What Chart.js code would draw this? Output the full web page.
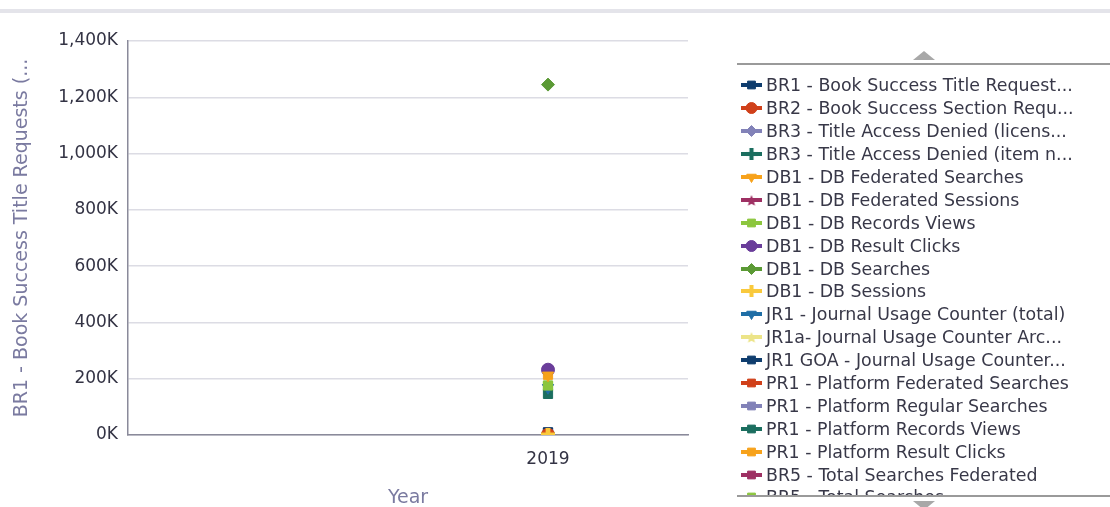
<!DOCTYPE html>
<html>
<head>
<meta charset="utf-8">
<script src="https://cdn.jsdelivr.net/npm/chart.js@4"></script>
<style>
  html, body { margin: 0; padding: 0; background: #fff; }
  body { width: 1110px; height: 507px; position: relative; overflow: hidden; font-family: "DejaVu Sans", sans-serif; }
  #topline { position: absolute; left: 0; top: 9px; width: 1110px; height: 4px; background: #e4e4ea; }
  #chartBox { position: absolute; left: 0; top: 0; width: 700px; height: 507px; }
  #legendWrap { position: absolute; left: 737px; top: 63px; width: 373px; height: 434px; border-top: 2px solid #9a9a9a; border-bottom: 2px solid #9a9a9a; overflow: hidden; box-sizing: border-box; }
  #legend { position: absolute; left: 0; top: 9px; }
  .item { height: 22.9px; display: flex; align-items: center; white-space: nowrap; color: #383848; font-size: 17.4px; }
  .item canvas { margin-right: 3px; }
  .arrow { position: absolute; width: 0; height: 0; border-left: 11px solid transparent; border-right: 11px solid transparent; left: 913px; }
  #up { top: 51px; border-bottom: 9px solid #a8a8a8; }
  #down { top: 501px; border-top: 9px solid #a8a8a8; }
</style>
</head>
<body>
<div id="topline"></div>
<div id="chartBox"><canvas id="myChart" width="700" height="507"></canvas></div>
<div class="arrow" id="up"></div>
<div id="legendWrap"><div id="legend"></div></div>
<div class="arrow" id="down"></div>
<script>
// Datos (año 2019)
const years = [2019];
const seriesNames = [
    'BR1 - Book Success Title Request...',
    'BR2 - Book Success Section Requ...',
    'BR3 - Title Access Denied (licens...',
    'BR3 - Title Access Denied (item n...',
    'DB1 - DB Federated Searches',
    'DB1 - DB Federated Sessions',
    'DB1 - DB Records Views',
    'DB1 - DB Result Clicks',
    'DB1 - DB Searches',
    'DB1 - DB Sessions',
    'JR1 - Journal Usage Counter (total)',
    'JR1a- Journal Usage Counter Arc...',
    'JR1 GOA - Journal Usage Counter...',
    'PR1 - Platform Federated Searches',
    'PR1 - Platform Regular Searches',
    'PR1 - Platform Records Views',
    'PR1 - Platform Result Clicks',
    'BR5 - Total Searches Federated',
    'BR5 - Total Searches'
];
const seriesValues = [
    9000, 1000, 1000, 1000, 212000, 1000, 176000, 232000, 1245000, 1000,
    168000, 1000, 9000, 1000, 1000, 146000, 214000, 1000, 174000
];
const yTicks = [0, 200000, 400000, 600000, 800000, 1000000, 1200000, 1400000];

// Estilos de las series
const seriesColors = [
    '#0f3d6e', '#d0401a', '#8282b8', '#1b6e5f', '#f7a21b', '#9e3063',
    '#8cc63e', '#6a3d9a', '#5b9a35', '#f9c93c', '#1f6ea6', '#ece488',
    '#0f3d6e', '#d0401a', '#8282b8', '#1b6e5f', '#f7a21b', '#9e3063', '#8cc63e'
];
const seriesShapes = [
    'rect', 'circle', 'rectRot', 'plus', 'triangle', 'star',
    'rect', 'circle', 'rectRot', 'plus', 'triangle', 'star',
    'rect', 'rect', 'rect', 'rect', 'rect', 'rect', 'rect'
];
// Orden de dibujo (menor = encima)
const drawOrder = [40, 1, 2, 3, 4, 5, 6, 7, 8, -10, 10, 11, 39, 13, 14, 15, 16, 17, 18];

// Imagen para las formas que Chart.js no rellena (cruz gruesa, estrella)
function makeShapeImage(shape, color, size) {
    const c = document.createElement('canvas');
    c.width = size; c.height = size;
    const ctx = c.getContext('2d');
    ctx.fillStyle = color;
    const m = size / 2;
    if (shape === 'plus') {
        const t = size * 0.34;
        ctx.fillRect(m - t / 2, 0, t, size);
        ctx.fillRect(0, m - t / 2, size, t);
    } else {
        ctx.beginPath();
        for (let k = 0; k < 10; k++) {
            const r = k % 2 === 0 ? m : m * 0.45;
            const a = -Math.PI / 2 + k * Math.PI / 5;
            const px = m + r * Math.cos(a), py = m + 1 + r * Math.sin(a);
            if (k === 0) ctx.moveTo(px, py); else ctx.lineTo(px, py);
        }
        ctx.closePath();
        ctx.fill();
    }
    return c;
}

function pointStyleFor(i, size) {
    const s = seriesShapes[i];
    if (s === 'plus' || s === 'star') return makeShapeImage(s, seriesColors[i], size);
    return s;
}

function shapeRotation(shape) {
    return shape === 'triangle' ? 180 : 0;
}

function buildDatasets() {
    return seriesNames.map((name, i) => ({
        label: name,
        data: years.map(y => ({ x: y, y: seriesValues[i] })),
        borderColor: seriesColors[i],
        backgroundColor: seriesColors[i],
        pointStyle: pointStyleFor(i, 14),
        pointRotation: shapeRotation(seriesShapes[i]),
        pointRadius: 6.5,
        pointBorderWidth: 1,
        order: drawOrder[i],
        showLine: false
    }));
}

function buildLegend() {
    const box = document.getElementById('legend');
    seriesNames.forEach((name, i) => {
        const row = document.createElement('div');
        row.className = 'item';
        const c = document.createElement('canvas');
        c.width = 26; c.height = 16;
        const ctx = c.getContext('2d');
        ctx.strokeStyle = seriesColors[i];
        ctx.lineWidth = 4;
        ctx.beginPath(); ctx.moveTo(4, 8); ctx.lineTo(25, 8); ctx.stroke();
        ctx.fillStyle = seriesColors[i];
        ctx.lineWidth = 1;
        Chart.helpers.drawPoint(ctx, {
            pointStyle: pointStyleFor(i, 12),
            rotation: shapeRotation(seriesShapes[i]),
            radius: 5.5,
            borderWidth: 1
        }, 14.5, 8);
        const span = document.createElement('span');
        span.textContent = name;
        row.appendChild(c);
        row.appendChild(span);
        box.appendChild(row);
    });
}

document.addEventListener('DOMContentLoaded', function () {
    const ctx = document.getElementById('myChart').getContext('2d');
    new Chart(ctx, {
        type: 'scatter',
        data: { datasets: buildDatasets() },
        options: {
            responsive: false,
            animation: false,
            layout: { padding: { top: 41, right: 12, left: 0, bottom: 0 } },
            plugins: { legend: { display: false }, tooltip: { enabled: false } },
            scales: {
                x: {
                    type: 'linear',
                    min: 2016,
                    max: 2020,
                    afterBuildTicks: scale => { scale.ticks = years.map(v => ({ value: v })); },
                    afterFit: scale => { scale.height = 72; },
                    ticks: { color: '#333344', font: { family: 'DejaVu Sans', size: 17 }, padding: 6, callback: v => String(v) },
                    grid: { display: false },
                    border: { color: '#8a8a9a', width: 1.5 },
                    title: { display: true, text: 'Year', color: '#7a7aa0', font: { family: 'DejaVu Sans', size: 19 }, padding: { top: 10, bottom: -2 } }
                },
                y: {
                    min: 0,
                    max: 1400000,
                    afterBuildTicks: scale => { scale.ticks = yTicks.map(v => ({ value: v })); },
                    afterFit: scale => { scale.width = 128; },
                    ticks: {
                        color: '#333344',
                        font: { family: 'DejaVu Sans', size: 17 },
                        padding: 10,
                        callback: v => (v / 1000).toLocaleString('en-US') + 'K'
                    },
                    grid: { color: '#dcdce4', lineWidth: 1.5, drawTicks: false },
                    border: { color: '#8a8a9a', width: 1.5 },
                    title: { display: true, text: 'BR1 - Book Success Title Requests (...', color: '#7a7aa0', font: { family: 'DejaVu Sans', size: 19 }, padding: { bottom: 0, top: 11 } }
                }
            }
        }
    });
    buildLegend();
});
</script>
</body>
</html>
